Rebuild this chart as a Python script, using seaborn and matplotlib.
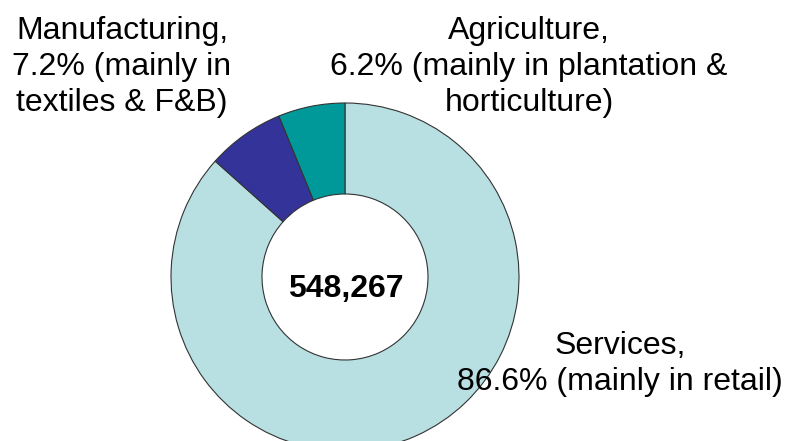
import matplotlib
matplotlib.use("Agg")
import matplotlib.pyplot as plt
import seaborn as sns

# chart data
sectors = ["Services", "Manufacturing", "Agriculture"]
shares = [86.6, 7.2, 6.2]
notes = ["(mainly in retail)", "(mainly in\ntextiles & F&B)", "(mainly in plantation &\nhorticulture)"]
total = 548267
colors = ["#B8DFE2", "#333399", "#009999"]

sns.set_theme(style="white")
plt.rcParams['font.family'] = ['Liberation Sans', 'DejaVu Sans']

W, H = 785, 441
fig = plt.figure(figsize=(W / 100, H / 100), dpi=100)
ax = fig.add_axes([0, 0, 1, 1])

cx, cy, R = 345, H - 277, 174
ax.pie(shares, colors=colors, startangle=90, counterclock=False,
       center=(cx, cy), radius=R, frame=True,
       wedgeprops=dict(width=R - 83, edgecolor='#333333', linewidth=0.8))
ax.set_xlim(0, W)
ax.set_ylim(0, H)
ax.set_aspect('equal')
ax.axis('off')

ax.text(346, H - 297, f"{total:,}", ha='center', va='baseline',
        fontsize=23, fontweight='bold', color='black')

# last-line baseline positions in pixels (layout only)
label_pos = {"Services": (620, H - 390), "Manufacturing": (122, H - 111),
             "Agriculture": (529, H - 111)}

def label_text(name, share, note):
    if "\n" in note:
        first, second = note.split("\n")
        return f"{name},\n{share}% {first}\n{second}"
    return f"{name},\n{share}% {note}"

for name, share, note in zip(sectors, shares, notes):
    x, y = label_pos[name]
    ax.text(x, y, label_text(name, share, note), ha='center', va='baseline',
            fontsize=23, color='black', linespacing=1.25, multialignment='center')

fig.savefig("out.png", dpi=100)
